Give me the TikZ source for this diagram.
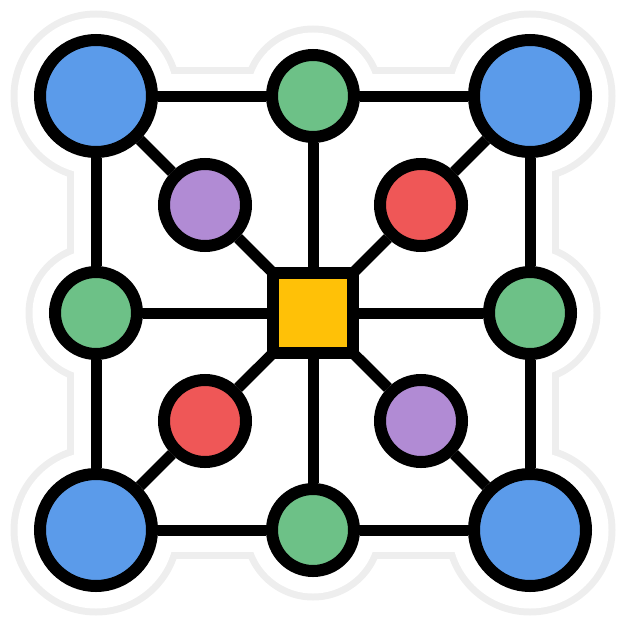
\documentclass[tikz,border=0pt]{standalone}
\usepackage{tikz}
\definecolor{hubblue}{HTML}{5B9BEA}
\definecolor{hubgreen}{HTML}{6DC187}
\definecolor{hubpurple}{HTML}{B18BD4}
\definecolor{hubred}{HTML}{EF5757}
\definecolor{hubyellow}{HTML}{FFC107}
\definecolor{stickergrey}{HTML}{EEEEEE}

\begin{document}
\begin{tikzpicture}[x=1pt, y=-1pt,
    corner/.style={circle, draw, line width=12pt, fill=hubblue, inner sep=0, minimum size=112pt},
    side/.style={circle, draw, line width=12pt, fill=hubgreen, inner sep=0, minimum size=82pt},
    inner/.style={circle, draw, line width=12pt, inner sep=0, minimum size=82pt},
    hubbox/.style={rectangle, draw, line width=12pt, fill=hubyellow, inner sep=0, minimum size=80pt},
    link/.style={line width=11pt},
    spoke/.style={link, shorten <=-10pt}]
        \useasboundingbox (0,0) rectangle (626,626);

        % sticker outline
        \foreach \p in {(96,96),(530,96),(96,530),(530,530)}
            \fill[stickergrey] \p circle (85.5);
        \foreach \p in {(313,96),(96,313),(530,313),(313,530)}
            \fill[stickergrey] \p circle (70.5);
        \draw[stickergrey, line width=58pt, fill=stickergrey] (96,96) rectangle (530,530);
        \foreach \p in {(96,96),(530,96),(96,530),(530,530)}
            \fill[white] \p circle (78.5);
        \foreach \p in {(313,96),(96,313),(530,313),(313,530)}
            \fill[white] \p circle (63.5);
        \draw[white, line width=44pt, fill=white] (96,96) rectangle (530,530);

        \node (tl) [corner] at (96,  96) {};
        \node (tr) [corner] at (530, 96) {};
        \node (bl) [corner] at (96,  530) {};
        \node (br) [corner] at (530, 530) {};

        \node (tm) [side] at (313, 96) {};
        \node (ml) [side] at (96,  313) {};
        \node (mr) [side] at (530, 313) {};
        \node (bm) [side] at (313, 530) {};

        \node (pa) [inner, fill=hubpurple] at (205, 205) {};
        \node (pb) [inner, fill=hubpurple] at (421, 421) {};
        \node (ra) [inner, fill=hubred] at (421, 205) {};
        \node (rb) [inner, fill=hubred] at (205, 421) {};

        \node (hub) [hubbox] at (313, 313) {};

        \path[link]
        (tl) edge (tm) edge (ml) edge (pa)
        (tr) edge (tm) edge (mr) edge (ra)
        (bl) edge (bm) edge (ml) edge (rb)
        (br) edge (bm) edge (mr) edge (pb)

        (hub) edge (tm) edge (ml) edge (mr) edge (bm)
        ;
        \path[spoke]
        (hub) edge (pa) edge (pb) edge (ra) edge (rb)
        ;
      \end{tikzpicture}
\end{document}
